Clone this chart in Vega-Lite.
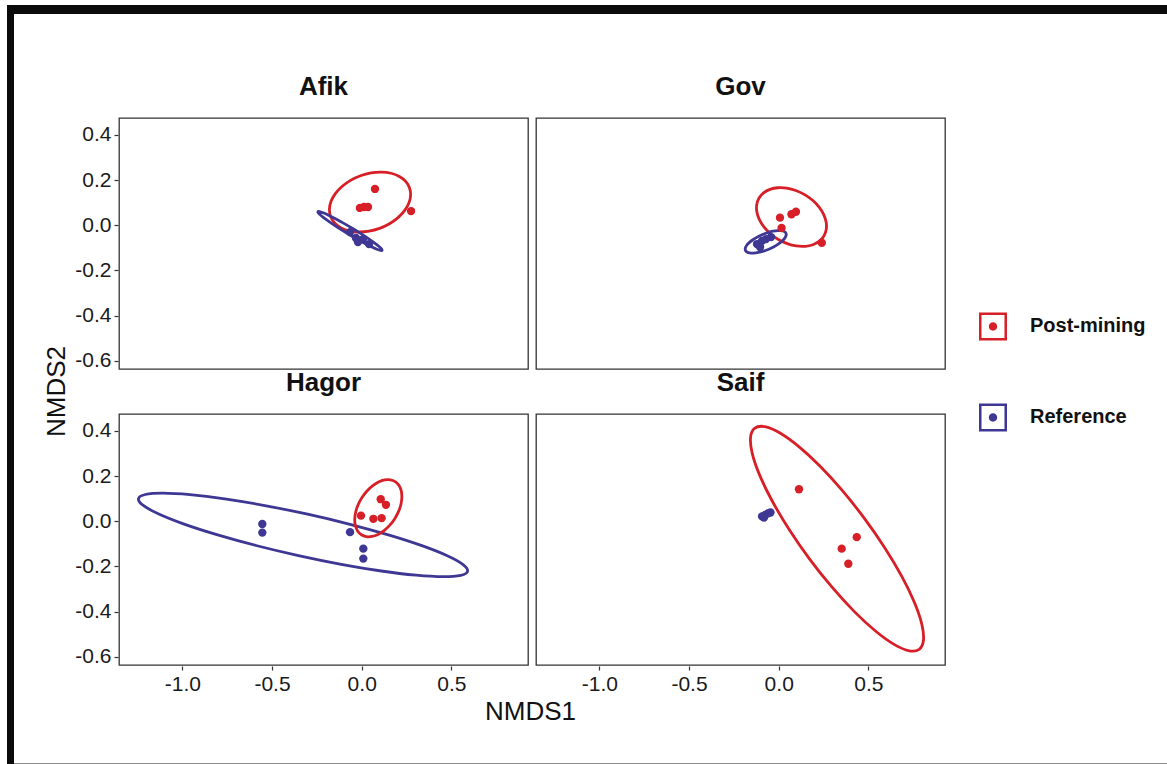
{
  "$schema": "https://vega.github.io/schema/vega-lite/v6.json",
  "background": "white",
  "padding": {"left": 7, "top": 5, "right": 0, "bottom": 0},
  "config": {
    "font": "Liberation Sans",
    "view": {"stroke": "#333333", "strokeWidth": 1.3},
    "axis": {"domain": false, "grid": false, "ticks": true, "tickColor": "#333333", "tickSize": 4, "tickWidth": 1.2, "labelFont": "Liberation Sans", "labelFontSize": 21, "labelColor": "#1a1a1a", "labelPadding": 3, "title": null}
  },
  "datasets": {
    "frame": [{"edge": "frame"}],
    "axisTitles": [{"name": "NMDS1"}, {"name": "NMDS2"}],
    "groups": [{"group": "Post-mining"}, {"group": "Reference"}],
    "nmds": [
      {"site": "Afik", "group": "Post-mining", "kind": "sample", "k": 0, "x": 0.074, "y": 0.161},
      {"site": "Afik", "group": "Post-mining", "kind": "sample", "k": 1, "x": -0.010, "y": 0.077},
      {"site": "Afik", "group": "Post-mining", "kind": "sample", "k": 2, "x": 0.013, "y": 0.081},
      {"site": "Afik", "group": "Post-mining", "kind": "sample", "k": 3, "x": 0.035, "y": 0.081},
      {"site": "Afik", "group": "Post-mining", "kind": "sample", "k": 4, "x": 0.275, "y": 0.063},
      {"site": "Afik", "group": "Reference", "kind": "sample", "k": 0, "x": -0.065, "y": -0.030},
      {"site": "Afik", "group": "Reference", "kind": "sample", "k": 1, "x": -0.032, "y": -0.056},
      {"site": "Afik", "group": "Reference", "kind": "sample", "k": 2, "x": -0.021, "y": -0.074},
      {"site": "Afik", "group": "Reference", "kind": "sample", "k": 3, "x": 0.007, "y": -0.061},
      {"site": "Afik", "group": "Reference", "kind": "sample", "k": 4, "x": 0.041, "y": -0.083},
      {"site": "Gov", "group": "Post-mining", "kind": "sample", "k": 0, "x": 0.007, "y": 0.034},
      {"site": "Gov", "group": "Post-mining", "kind": "sample", "k": 1, "x": 0.071, "y": 0.049},
      {"site": "Gov", "group": "Post-mining", "kind": "sample", "k": 2, "x": 0.096, "y": 0.060},
      {"site": "Gov", "group": "Post-mining", "kind": "sample", "k": 3, "x": 0.016, "y": -0.012},
      {"site": "Gov", "group": "Post-mining", "kind": "sample", "k": 4, "x": 0.240, "y": -0.077},
      {"site": "Gov", "group": "Reference", "kind": "sample", "k": 0, "x": -0.121, "y": -0.083},
      {"site": "Gov", "group": "Reference", "kind": "sample", "k": 1, "x": -0.093, "y": -0.069},
      {"site": "Gov", "group": "Reference", "kind": "sample", "k": 2, "x": -0.071, "y": -0.061},
      {"site": "Gov", "group": "Reference", "kind": "sample", "k": 3, "x": -0.043, "y": -0.052},
      {"site": "Gov", "group": "Reference", "kind": "sample", "k": 4, "x": -0.104, "y": -0.096},
      {"site": "Hagor", "group": "Post-mining", "kind": "sample", "k": 0, "x": -0.004, "y": 0.025},
      {"site": "Hagor", "group": "Post-mining", "kind": "sample", "k": 1, "x": 0.065, "y": 0.011},
      {"site": "Hagor", "group": "Post-mining", "kind": "sample", "k": 2, "x": 0.111, "y": 0.014},
      {"site": "Hagor", "group": "Post-mining", "kind": "sample", "k": 3, "x": 0.106, "y": 0.098},
      {"site": "Hagor", "group": "Post-mining", "kind": "sample", "k": 4, "x": 0.135, "y": 0.073},
      {"site": "Hagor", "group": "Reference", "kind": "sample", "k": 0, "x": -0.554, "y": -0.012},
      {"site": "Hagor", "group": "Reference", "kind": "sample", "k": 1, "x": -0.554, "y": -0.050},
      {"site": "Hagor", "group": "Reference", "kind": "sample", "k": 2, "x": -0.065, "y": -0.048},
      {"site": "Hagor", "group": "Reference", "kind": "sample", "k": 3, "x": 0.009, "y": -0.121},
      {"site": "Hagor", "group": "Reference", "kind": "sample", "k": 4, "x": 0.009, "y": -0.165},
      {"site": "Saif", "group": "Post-mining", "kind": "sample", "k": 0, "x": 0.113, "y": 0.142},
      {"site": "Saif", "group": "Post-mining", "kind": "sample", "k": 1, "x": 0.435, "y": -0.070},
      {"site": "Saif", "group": "Post-mining", "kind": "sample", "k": 2, "x": 0.351, "y": -0.121},
      {"site": "Saif", "group": "Post-mining", "kind": "sample", "k": 3, "x": 0.388, "y": -0.188},
      {"site": "Saif", "group": "Reference", "kind": "sample", "k": 0, "x": -0.093, "y": 0.022},
      {"site": "Saif", "group": "Reference", "kind": "sample", "k": 1, "x": -0.076, "y": 0.028},
      {"site": "Saif", "group": "Reference", "kind": "sample", "k": 2, "x": -0.060, "y": 0.035},
      {"site": "Saif", "group": "Reference", "kind": "sample", "k": 3, "x": -0.046, "y": 0.039},
      {"site": "Saif", "group": "Reference", "kind": "sample", "k": 4, "x": -0.082, "y": 0.017},

      {"site": "Afik", "group": "Post-mining", "kind": "ellipse", "k": 0, "x": 0.2663, "y": 0.1667},
      {"site": "Afik", "group": "Post-mining", "kind": "ellipse", "k": 1, "x": 0.2726, "y": 0.1344},
      {"site": "Afik", "group": "Post-mining", "kind": "ellipse", "k": 2, "x": 0.2635, "y": 0.1000},
      {"site": "Afik", "group": "Post-mining", "kind": "ellipse", "k": 3, "x": 0.2397, "y": 0.0658},
      {"site": "Afik", "group": "Post-mining", "kind": "ellipse", "k": 4, "x": 0.2025, "y": 0.0341},
      {"site": "Afik", "group": "Post-mining", "kind": "ellipse", "k": 5, "x": 0.1548, "y": 0.0072},
      {"site": "Afik", "group": "Post-mining", "kind": "ellipse", "k": 6, "x": 0.0997, "y": -0.0133},
      {"site": "Afik", "group": "Post-mining", "kind": "ellipse", "k": 7, "x": 0.0410, "y": -0.0258},
      {"site": "Afik", "group": "Post-mining", "kind": "ellipse", "k": 8, "x": -0.0175, "y": -0.0295},
      {"site": "Afik", "group": "Post-mining", "kind": "ellipse", "k": 9, "x": -0.0715, "y": -0.0242},
      {"site": "Afik", "group": "Post-mining", "kind": "ellipse", "k": 10, "x": -0.1175, "y": -0.0102},
      {"site": "Afik", "group": "Post-mining", "kind": "ellipse", "k": 11, "x": -0.1524, "y": 0.0116},
      {"site": "Afik", "group": "Post-mining", "kind": "ellipse", "k": 12, "x": -0.1737, "y": 0.0395},
      {"site": "Afik", "group": "Post-mining", "kind": "ellipse", "k": 13, "x": -0.1800, "y": 0.0718},
      {"site": "Afik", "group": "Post-mining", "kind": "ellipse", "k": 14, "x": -0.1709, "y": 0.1062},
      {"site": "Afik", "group": "Post-mining", "kind": "ellipse", "k": 15, "x": -0.1471, "y": 0.1404},
      {"site": "Afik", "group": "Post-mining", "kind": "ellipse", "k": 16, "x": -0.1099, "y": 0.1721},
      {"site": "Afik", "group": "Post-mining", "kind": "ellipse", "k": 17, "x": -0.0622, "y": 0.1990},
      {"site": "Afik", "group": "Post-mining", "kind": "ellipse", "k": 18, "x": -0.0071, "y": 0.2195},
      {"site": "Afik", "group": "Post-mining", "kind": "ellipse", "k": 19, "x": 0.0516, "y": 0.2320},
      {"site": "Afik", "group": "Post-mining", "kind": "ellipse", "k": 20, "x": 0.1101, "y": 0.2357},
      {"site": "Afik", "group": "Post-mining", "kind": "ellipse", "k": 21, "x": 0.1641, "y": 0.2304},
      {"site": "Afik", "group": "Post-mining", "kind": "ellipse", "k": 22, "x": 0.2101, "y": 0.2164},
      {"site": "Afik", "group": "Post-mining", "kind": "ellipse", "k": 23, "x": 0.2450, "y": 0.1946},

      {"site": "Afik", "group": "Reference", "kind": "ellipse", "k": 0, "x": 0.1140, "y": -0.1107},
      {"site": "Afik", "group": "Reference", "kind": "ellipse", "k": 1, "x": 0.1053, "y": -0.1112},
      {"site": "Afik", "group": "Reference", "kind": "ellipse", "k": 2, "x": 0.0850, "y": -0.1059},
      {"site": "Afik", "group": "Reference", "kind": "ellipse", "k": 3, "x": 0.0544, "y": -0.0951},
      {"site": "Afik", "group": "Reference", "kind": "ellipse", "k": 4, "x": 0.0157, "y": -0.0795},
      {"site": "Afik", "group": "Reference", "kind": "ellipse", "k": 5, "x": -0.0285, "y": -0.0601},
      {"site": "Afik", "group": "Reference", "kind": "ellipse", "k": 6, "x": -0.0752, "y": -0.0385},
      {"site": "Afik", "group": "Reference", "kind": "ellipse", "k": 7, "x": -0.1213, "y": -0.0159},
      {"site": "Afik", "group": "Reference", "kind": "ellipse", "k": 8, "x": -0.1635, "y": 0.0061},
      {"site": "Afik", "group": "Reference", "kind": "ellipse", "k": 9, "x": -0.1990, "y": 0.0259},
      {"site": "Afik", "group": "Reference", "kind": "ellipse", "k": 10, "x": -0.2254, "y": 0.0421},
      {"site": "Afik", "group": "Reference", "kind": "ellipse", "k": 11, "x": -0.2409, "y": 0.0540},
      {"site": "Afik", "group": "Reference", "kind": "ellipse", "k": 12, "x": -0.2444, "y": 0.0603},
      {"site": "Afik", "group": "Reference", "kind": "ellipse", "k": 13, "x": -0.2357, "y": 0.0608},
      {"site": "Afik", "group": "Reference", "kind": "ellipse", "k": 14, "x": -0.2154, "y": 0.0555},
      {"site": "Afik", "group": "Reference", "kind": "ellipse", "k": 15, "x": -0.1848, "y": 0.0447},
      {"site": "Afik", "group": "Reference", "kind": "ellipse", "k": 16, "x": -0.1461, "y": 0.0291},
      {"site": "Afik", "group": "Reference", "kind": "ellipse", "k": 17, "x": -0.1019, "y": 0.0097},
      {"site": "Afik", "group": "Reference", "kind": "ellipse", "k": 18, "x": -0.0552, "y": -0.0119},
      {"site": "Afik", "group": "Reference", "kind": "ellipse", "k": 19, "x": -0.0091, "y": -0.0345},
      {"site": "Afik", "group": "Reference", "kind": "ellipse", "k": 20, "x": 0.0331, "y": -0.0565},
      {"site": "Afik", "group": "Reference", "kind": "ellipse", "k": 21, "x": 0.0686, "y": -0.0763},
      {"site": "Afik", "group": "Reference", "kind": "ellipse", "k": 22, "x": 0.0950, "y": -0.0925},
      {"site": "Afik", "group": "Reference", "kind": "ellipse", "k": 23, "x": 0.1105, "y": -0.1044},

      {"site": "Gov", "group": "Post-mining", "kind": "ellipse", "k": 0, "x": 0.2521, "y": -0.0475},
      {"site": "Gov", "group": "Post-mining", "kind": "ellipse", "k": 1, "x": 0.2269, "y": -0.0703},
      {"site": "Gov", "group": "Post-mining", "kind": "ellipse", "k": 2, "x": 0.1912, "y": -0.0858},
      {"site": "Gov", "group": "Post-mining", "kind": "ellipse", "k": 3, "x": 0.1473, "y": -0.0929},
      {"site": "Gov", "group": "Post-mining", "kind": "ellipse", "k": 4, "x": 0.0982, "y": -0.0913},
      {"site": "Gov", "group": "Post-mining", "kind": "ellipse", "k": 5, "x": 0.0473, "y": -0.0809},
      {"site": "Gov", "group": "Post-mining", "kind": "ellipse", "k": 6, "x": -0.0020, "y": -0.0625},
      {"site": "Gov", "group": "Post-mining", "kind": "ellipse", "k": 7, "x": -0.0463, "y": -0.0373},
      {"site": "Gov", "group": "Post-mining", "kind": "ellipse", "k": 8, "x": -0.0826, "y": -0.0071},
      {"site": "Gov", "group": "Post-mining", "kind": "ellipse", "k": 9, "x": -0.1083, "y": 0.0261},
      {"site": "Gov", "group": "Post-mining", "kind": "ellipse", "k": 10, "x": -0.1220, "y": 0.0600},
      {"site": "Gov", "group": "Post-mining", "kind": "ellipse", "k": 11, "x": -0.1223, "y": 0.0923},
      {"site": "Gov", "group": "Post-mining", "kind": "ellipse", "k": 12, "x": -0.1095, "y": 0.1209},
      {"site": "Gov", "group": "Post-mining", "kind": "ellipse", "k": 13, "x": -0.0843, "y": 0.1437},
      {"site": "Gov", "group": "Post-mining", "kind": "ellipse", "k": 14, "x": -0.0486, "y": 0.1592},
      {"site": "Gov", "group": "Post-mining", "kind": "ellipse", "k": 15, "x": -0.0047, "y": 0.1663},
      {"site": "Gov", "group": "Post-mining", "kind": "ellipse", "k": 16, "x": 0.0444, "y": 0.1647},
      {"site": "Gov", "group": "Post-mining", "kind": "ellipse", "k": 17, "x": 0.0953, "y": 0.1543},
      {"site": "Gov", "group": "Post-mining", "kind": "ellipse", "k": 18, "x": 0.1446, "y": 0.1359},
      {"site": "Gov", "group": "Post-mining", "kind": "ellipse", "k": 19, "x": 0.1889, "y": 0.1107},
      {"site": "Gov", "group": "Post-mining", "kind": "ellipse", "k": 20, "x": 0.2252, "y": 0.0805},
      {"site": "Gov", "group": "Post-mining", "kind": "ellipse", "k": 21, "x": 0.2509, "y": 0.0473},
      {"site": "Gov", "group": "Post-mining", "kind": "ellipse", "k": 22, "x": 0.2646, "y": 0.0134},
      {"site": "Gov", "group": "Post-mining", "kind": "ellipse", "k": 23, "x": 0.2649, "y": -0.0189},

      {"site": "Gov", "group": "Reference", "kind": "ellipse", "k": 0, "x": 0.0405, "y": -0.0351},
      {"site": "Gov", "group": "Reference", "kind": "ellipse", "k": 1, "x": 0.0411, "y": -0.0448},
      {"site": "Gov", "group": "Reference", "kind": "ellipse", "k": 2, "x": 0.0341, "y": -0.0565},
      {"site": "Gov", "group": "Reference", "kind": "ellipse", "k": 3, "x": 0.0197, "y": -0.0693},
      {"site": "Gov", "group": "Reference", "kind": "ellipse", "k": 4, "x": -0.0009, "y": -0.0822},
      {"site": "Gov", "group": "Reference", "kind": "ellipse", "k": 5, "x": -0.0265, "y": -0.0947},
      {"site": "Gov", "group": "Reference", "kind": "ellipse", "k": 6, "x": -0.0551, "y": -0.1056},
      {"site": "Gov", "group": "Reference", "kind": "ellipse", "k": 7, "x": -0.0849, "y": -0.1143},
      {"site": "Gov", "group": "Reference", "kind": "ellipse", "k": 8, "x": -0.1139, "y": -0.1202},
      {"site": "Gov", "group": "Reference", "kind": "ellipse", "k": 9, "x": -0.1401, "y": -0.1229},
      {"site": "Gov", "group": "Reference", "kind": "ellipse", "k": 10, "x": -0.1617, "y": -0.1221},
      {"site": "Gov", "group": "Reference", "kind": "ellipse", "k": 11, "x": -0.1771, "y": -0.1180},
      {"site": "Gov", "group": "Reference", "kind": "ellipse", "k": 12, "x": -0.1855, "y": -0.1109},
      {"site": "Gov", "group": "Reference", "kind": "ellipse", "k": 13, "x": -0.1861, "y": -0.1012},
      {"site": "Gov", "group": "Reference", "kind": "ellipse", "k": 14, "x": -0.1791, "y": -0.0895},
      {"site": "Gov", "group": "Reference", "kind": "ellipse", "k": 15, "x": -0.1647, "y": -0.0767},
      {"site": "Gov", "group": "Reference", "kind": "ellipse", "k": 16, "x": -0.1441, "y": -0.0638},
      {"site": "Gov", "group": "Reference", "kind": "ellipse", "k": 17, "x": -0.1185, "y": -0.0513},
      {"site": "Gov", "group": "Reference", "kind": "ellipse", "k": 18, "x": -0.0899, "y": -0.0404},
      {"site": "Gov", "group": "Reference", "kind": "ellipse", "k": 19, "x": -0.0601, "y": -0.0317},
      {"site": "Gov", "group": "Reference", "kind": "ellipse", "k": 20, "x": -0.0311, "y": -0.0258},
      {"site": "Gov", "group": "Reference", "kind": "ellipse", "k": 21, "x": -0.0049, "y": -0.0231},
      {"site": "Gov", "group": "Reference", "kind": "ellipse", "k": 22, "x": 0.0167, "y": -0.0239},
      {"site": "Gov", "group": "Reference", "kind": "ellipse", "k": 23, "x": 0.0321, "y": -0.0280},

      {"site": "Hagor", "group": "Reference", "kind": "ellipse", "k": 0, "x": 0.5900, "y": -0.2209},
      {"site": "Hagor", "group": "Reference", "kind": "ellipse", "k": 1, "x": 0.5521, "y": -0.2391},
      {"site": "Hagor", "group": "Reference", "kind": "ellipse", "k": 2, "x": 0.4543, "y": -0.2452},
      {"site": "Hagor", "group": "Reference", "kind": "ellipse", "k": 3, "x": 0.3034, "y": -0.2386},
      {"site": "Hagor", "group": "Reference", "kind": "ellipse", "k": 4, "x": 0.1093, "y": -0.2199},
      {"site": "Hagor", "group": "Reference", "kind": "ellipse", "k": 5, "x": -0.1144, "y": -0.1903},
      {"site": "Hagor", "group": "Reference", "kind": "ellipse", "k": 6, "x": -0.3527, "y": -0.1518},
      {"site": "Hagor", "group": "Reference", "kind": "ellipse", "k": 7, "x": -0.5892, "y": -0.1071},
      {"site": "Hagor", "group": "Reference", "kind": "ellipse", "k": 8, "x": -0.8079, "y": -0.0591},
      {"site": "Hagor", "group": "Reference", "kind": "ellipse", "k": 9, "x": -0.9938, "y": -0.0114},
      {"site": "Hagor", "group": "Reference", "kind": "ellipse", "k": 10, "x": -1.1343, "y": 0.0332},
      {"site": "Hagor", "group": "Reference", "kind": "ellipse", "k": 11, "x": -1.2197, "y": 0.0713},
      {"site": "Hagor", "group": "Reference", "kind": "ellipse", "k": 12, "x": -1.2444, "y": 0.1005},
      {"site": "Hagor", "group": "Reference", "kind": "ellipse", "k": 13, "x": -1.2065, "y": 0.1187},
      {"site": "Hagor", "group": "Reference", "kind": "ellipse", "k": 14, "x": -1.1087, "y": 0.1248},
      {"site": "Hagor", "group": "Reference", "kind": "ellipse", "k": 15, "x": -0.9578, "y": 0.1182},
      {"site": "Hagor", "group": "Reference", "kind": "ellipse", "k": 16, "x": -0.7637, "y": 0.0995},
      {"site": "Hagor", "group": "Reference", "kind": "ellipse", "k": 17, "x": -0.5400, "y": 0.0699},
      {"site": "Hagor", "group": "Reference", "kind": "ellipse", "k": 18, "x": -0.3017, "y": 0.0314},
      {"site": "Hagor", "group": "Reference", "kind": "ellipse", "k": 19, "x": -0.0652, "y": -0.0133},
      {"site": "Hagor", "group": "Reference", "kind": "ellipse", "k": 20, "x": 0.1535, "y": -0.0613},
      {"site": "Hagor", "group": "Reference", "kind": "ellipse", "k": 21, "x": 0.3394, "y": -0.1090},
      {"site": "Hagor", "group": "Reference", "kind": "ellipse", "k": 22, "x": 0.4799, "y": -0.1536},
      {"site": "Hagor", "group": "Reference", "kind": "ellipse", "k": 23, "x": 0.5653, "y": -0.1917},

      {"site": "Hagor", "group": "Post-mining", "kind": "ellipse", "k": 0, "x": 0.1866, "y": 0.1757},
      {"site": "Hagor", "group": "Post-mining", "kind": "ellipse", "k": 1, "x": 0.2072, "y": 0.1597},
      {"site": "Hagor", "group": "Post-mining", "kind": "ellipse", "k": 2, "x": 0.2199, "y": 0.1368},
      {"site": "Hagor", "group": "Post-mining", "kind": "ellipse", "k": 3, "x": 0.2239, "y": 0.1085},
      {"site": "Hagor", "group": "Post-mining", "kind": "ellipse", "k": 4, "x": 0.2191, "y": 0.0769},
      {"site": "Hagor", "group": "Post-mining", "kind": "ellipse", "k": 5, "x": 0.2056, "y": 0.0439},
      {"site": "Hagor", "group": "Post-mining", "kind": "ellipse", "k": 6, "x": 0.1843, "y": 0.0118},
      {"site": "Hagor", "group": "Post-mining", "kind": "ellipse", "k": 7, "x": 0.1568, "y": -0.0171},
      {"site": "Hagor", "group": "Post-mining", "kind": "ellipse", "k": 8, "x": 0.1249, "y": -0.0409},
      {"site": "Hagor", "group": "Post-mining", "kind": "ellipse", "k": 9, "x": 0.0909, "y": -0.0579},
      {"site": "Hagor", "group": "Post-mining", "kind": "ellipse", "k": 10, "x": 0.0569, "y": -0.0670},
      {"site": "Hagor", "group": "Post-mining", "kind": "ellipse", "k": 11, "x": 0.0254, "y": -0.0677},
      {"site": "Hagor", "group": "Post-mining", "kind": "ellipse", "k": 12, "x": -0.0016, "y": -0.0597},
      {"site": "Hagor", "group": "Post-mining", "kind": "ellipse", "k": 13, "x": -0.0222, "y": -0.0437},
      {"site": "Hagor", "group": "Post-mining", "kind": "ellipse", "k": 14, "x": -0.0349, "y": -0.0208},
      {"site": "Hagor", "group": "Post-mining", "kind": "ellipse", "k": 15, "x": -0.0389, "y": 0.0075},
      {"site": "Hagor", "group": "Post-mining", "kind": "ellipse", "k": 16, "x": -0.0341, "y": 0.0391},
      {"site": "Hagor", "group": "Post-mining", "kind": "ellipse", "k": 17, "x": -0.0206, "y": 0.0721},
      {"site": "Hagor", "group": "Post-mining", "kind": "ellipse", "k": 18, "x": 0.0007, "y": 0.1042},
      {"site": "Hagor", "group": "Post-mining", "kind": "ellipse", "k": 19, "x": 0.0282, "y": 0.1331},
      {"site": "Hagor", "group": "Post-mining", "kind": "ellipse", "k": 20, "x": 0.0601, "y": 0.1569},
      {"site": "Hagor", "group": "Post-mining", "kind": "ellipse", "k": 21, "x": 0.0941, "y": 0.1739},
      {"site": "Hagor", "group": "Post-mining", "kind": "ellipse", "k": 22, "x": 0.1281, "y": 0.1830},
      {"site": "Hagor", "group": "Post-mining", "kind": "ellipse", "k": 23, "x": 0.1596, "y": 0.1837},

      {"site": "Saif", "group": "Post-mining", "kind": "ellipse", "k": 0, "x": 0.7830, "y": -0.5665},
      {"site": "Saif", "group": "Post-mining", "kind": "ellipse", "k": 1, "x": 0.7279, "y": -0.5731},
      {"site": "Saif", "group": "Post-mining", "kind": "ellipse", "k": 2, "x": 0.6453, "y": -0.5459},
      {"site": "Saif", "group": "Post-mining", "kind": "ellipse", "k": 3, "x": 0.5410, "y": -0.4867},
      {"site": "Saif", "group": "Post-mining", "kind": "ellipse", "k": 4, "x": 0.4218, "y": -0.3997},
      {"site": "Saif", "group": "Post-mining", "kind": "ellipse", "k": 5, "x": 0.2961, "y": -0.2906},
      {"site": "Saif", "group": "Post-mining", "kind": "ellipse", "k": 6, "x": 0.1724, "y": -0.1670},
      {"site": "Saif", "group": "Post-mining", "kind": "ellipse", "k": 7, "x": 0.0591, "y": -0.0372},
      {"site": "Saif", "group": "Post-mining", "kind": "ellipse", "k": 8, "x": -0.0362, "y": 0.0899},
      {"site": "Saif", "group": "Post-mining", "kind": "ellipse", "k": 9, "x": -0.1068, "y": 0.2055},
      {"site": "Saif", "group": "Post-mining", "kind": "ellipse", "k": 10, "x": -0.1479, "y": 0.3019},
      {"site": "Saif", "group": "Post-mining", "kind": "ellipse", "k": 11, "x": -0.1569, "y": 0.3725},
      {"site": "Saif", "group": "Post-mining", "kind": "ellipse", "k": 12, "x": -0.1330, "y": 0.4125},
      {"site": "Saif", "group": "Post-mining", "kind": "ellipse", "k": 13, "x": -0.0779, "y": 0.4191},
      {"site": "Saif", "group": "Post-mining", "kind": "ellipse", "k": 14, "x": 0.0047, "y": 0.3919},
      {"site": "Saif", "group": "Post-mining", "kind": "ellipse", "k": 15, "x": 0.1090, "y": 0.3327},
      {"site": "Saif", "group": "Post-mining", "kind": "ellipse", "k": 16, "x": 0.2282, "y": 0.2457},
      {"site": "Saif", "group": "Post-mining", "kind": "ellipse", "k": 17, "x": 0.3539, "y": 0.1366},
      {"site": "Saif", "group": "Post-mining", "kind": "ellipse", "k": 18, "x": 0.4776, "y": 0.0130},
      {"site": "Saif", "group": "Post-mining", "kind": "ellipse", "k": 19, "x": 0.5909, "y": -0.1168},
      {"site": "Saif", "group": "Post-mining", "kind": "ellipse", "k": 20, "x": 0.6862, "y": -0.2439},
      {"site": "Saif", "group": "Post-mining", "kind": "ellipse", "k": 21, "x": 0.7568, "y": -0.3595},
      {"site": "Saif", "group": "Post-mining", "kind": "ellipse", "k": 22, "x": 0.7979, "y": -0.4559},
      {"site": "Saif", "group": "Post-mining", "kind": "ellipse", "k": 23, "x": 0.8069, "y": -0.5265}
    ]
  },
  "spacing": 0,
  "hconcat": [
    {
      "width": 7,
      "height": 759,
      "view": {"fill": "#0b0b0b", "stroke": null},
      "data": {"name": "frame"},
      "mark": {"type": "point", "opacity": 0},
      "encoding": {}
    },
    {
      "spacing": 59,
      "vconcat": [
        {
          "width": 1153,
          "height": 9,
          "view": {"fill": "#0b0b0b", "stroke": null},
          "data": {"name": "frame"},
          "mark": {"type": "point", "opacity": 0},
          "encoding": {}
        },
        {
          "spacing": 34,
          "vconcat": [
            {
              "spacing": 2,
              "hconcat": [
                {
                  "width": 58,
                  "height": 547,
                  "view": {"stroke": null},
                  "data": {"name": "axisTitles"},
                  "transform": [{"filter": "datum.name === 'NMDS2'"}],
                  "mark": {"type": "text", "angle": 270, "fontSize": 26, "align": "center", "baseline": "middle", "dy": 14, "color": "#111111"},
                  "encoding": {"text": {"field": "name", "type": "nominal"}}
                },
                {
                  "spacing": 2,
                  "vconcat": [
                    {
                      "data": {"name": "nmds"},
                      "facet": {
                        "field": "site",
                        "type": "nominal",
                        "sort": ["Afik", "Gov", "Hagor", "Saif"],
                        "header": {"title": null, "labelFontSize": 26, "labelFontWeight": "bold", "labelFont": "Liberation Sans", "labelColor": "#111111", "labelPadding": 18}
                      },
                      "columns": 2,
                      "spacing": {"row": -1, "column": 6},
                      "spec": {
                        "width": 409,
                        "height": 251,
                        "layer": [
                          {
                            "transform": [{"filter": "datum.kind === 'ellipse'"}],
                            "mark": {"type": "line", "strokeWidth": 2.8, "interpolate": "cardinal-closed"},
                            "encoding": {
                              "x": {"field": "x", "type": "quantitative", "scale": {"domain": [-1.353, 0.927], "nice": false, "zero": false}, "axis": {"values": [-1, -0.5, 0, 0.5], "labelExpr": "replace(format(datum.value, '.1f'), '\u2212', '-')"}},
                              "y": {"field": "y", "type": "quantitative", "scale": {"domain": [-0.636, 0.475], "nice": false, "zero": false}, "axis": {"values": [-0.6, -0.4, -0.2, 0, 0.2, 0.4], "labelExpr": "replace(format(datum.value, '.1f'), '\u2212', '-')"}},
                              "order": {"field": "k", "type": "quantitative"},
                              "stroke": {"field": "group", "type": "nominal", "scale": {"domain": ["Post-mining", "Reference"], "range": ["#D71F27", "#3E3894"]}, "legend": null}
                            }
                          },
                          {
                            "transform": [{"filter": "datum.kind === 'sample'"}],
                            "mark": {"type": "point", "filled": true, "size": 70, "opacity": 1},
                            "encoding": {
                              "x": {"field": "x", "type": "quantitative"},
                              "y": {"field": "y", "type": "quantitative"},
                              "color": {"field": "group", "type": "nominal", "scale": {"domain": ["Post-mining", "Reference"], "range": ["#D71F27", "#3E3894"]}, "legend": null}
                            }
                          }
                        ]
                      }
                    },
                    {
                      "width": 823,
                      "height": 31,
                      "view": {"stroke": null},
                      "data": {"name": "axisTitles"},
                      "transform": [{"filter": "datum.name === 'NMDS1'"}],
                      "mark": {"type": "text", "fontSize": 26, "align": "center", "baseline": "middle", "color": "#111111"},
                      "encoding": {"text": {"field": "name", "type": "nominal"}}
                    }
                  ]
                },
                {
                  "width": 90,
                  "height": 345,
                  "view": {"stroke": null},
                  "data": {"name": "groups"},
                  "encoding": {
                    "y": {"field": "group", "type": "nominal", "scale": {"type": "band", "paddingInner": 0, "paddingOuter": 0.8956, "align": 1}, "axis": null},
                    "color": {"field": "group", "type": "nominal", "scale": {"domain": ["Post-mining", "Reference"], "range": ["#D71F27", "#3E3894"]}, "legend": null}
                  },
                  "layer": [
                    {
                      "mark": {"type": "point", "filled": true, "opacity": 1, "size": 784, "shape": "M-1,-1H1V1H-1Z M-0.82,-0.82V0.82H0.82V-0.82Z M-0.3,0A0.3,0.3,0,1,0,0.3,0A0.3,0.3,0,1,0,-0.3,0Z"}
                    },
                    {
                      "mark": {"type": "text", "align": "left", "baseline": "middle", "dx": 37, "fontSize": 20, "fontWeight": "bold", "color": "#111111"},
                      "encoding": {"text": {"field": "group", "type": "nominal"}, "color": {"value": "#111111"}}
                    }
                  ]
                }
              ]
            },
            {
              "width": 1153,
              "height": 2,
              "view": {"fill": "#8c8c8c", "stroke": null},
              "data": {"name": "frame"},
              "mark": {"type": "point", "opacity": 0},
              "encoding": {}
            }
          ]
        }
      ]
    }
  ]
}
